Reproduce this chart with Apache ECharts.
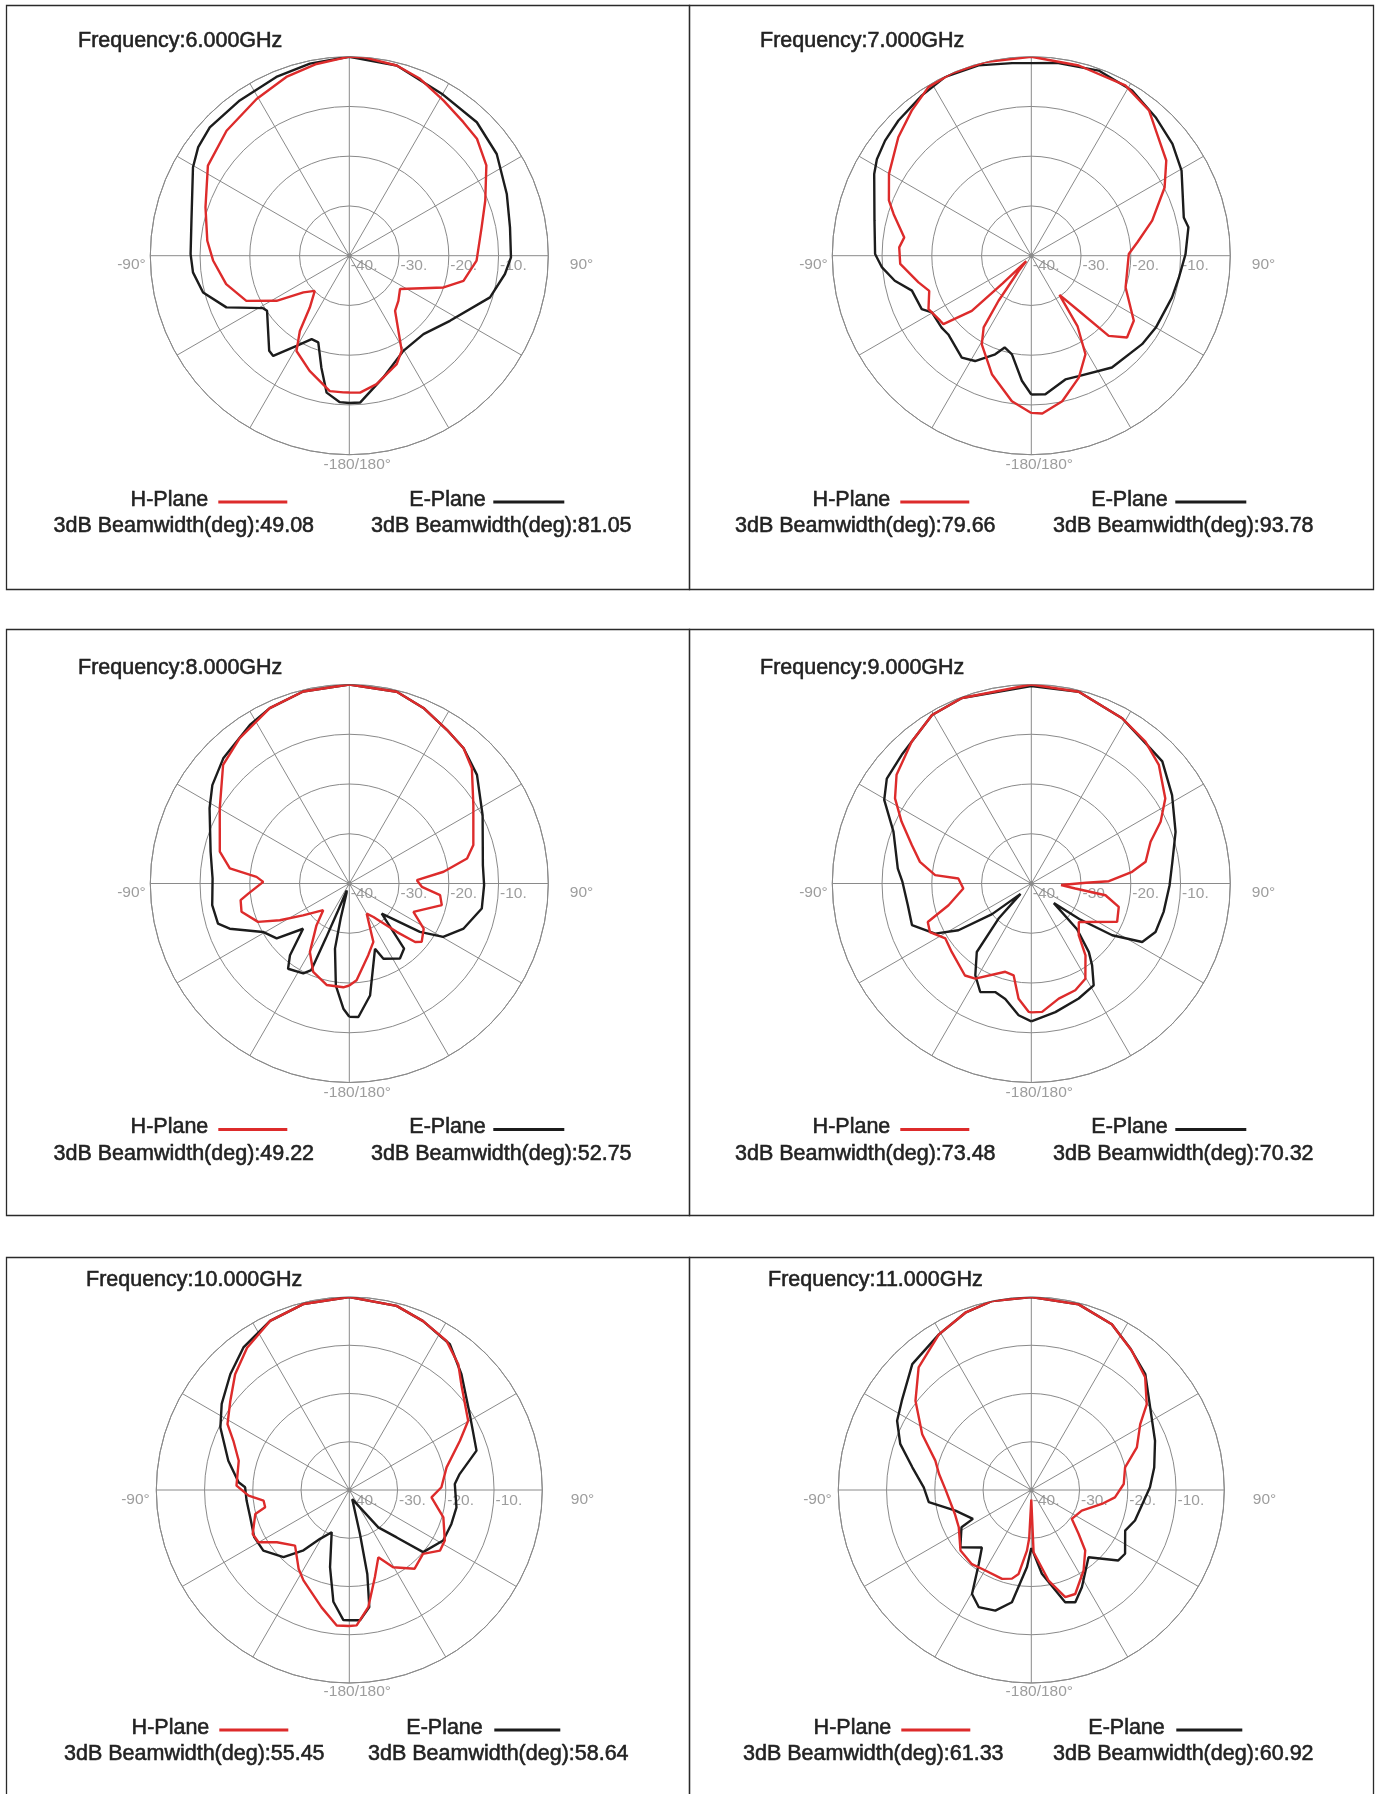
<!DOCTYPE html>
<html>
<head>
<meta charset="utf-8">
<script src="https://cdn.jsdelivr.net/npm/echarts@6/dist/echarts.min.js"></script>
<style>
html,body{margin:0;padding:0;background:#ffffff;}
#chart{width:1378px;height:1794px;}
</style>
</head>
<body>
<div id="chart"></div>
<script>
// ---------- data ----------
const frequencies = ['6.000', '7.000', '8.000', '9.000', '10.000', '11.000'];
const hBeamwidth = ['49.08', '79.66', '49.22', '73.48', '55.45', '61.33'];
const eBeamwidth = ['81.05', '93.78', '52.75', '70.32', '58.64', '60.92'];
const radiusTicks = [-40, -30, -20, -10];
const radiusTickLabels = ['-40.', '-30.', '-20.', '-10.'];
const angleTickAngles = [-90, 90, -180];
const angleTickLabels = ['-90°', '90°', '-180/180°'];

// 6 GHz
const h6Angle = [-180,-177.5,-171.8,-161,-151,-146.7,-142.7,-135.5,-128.6,-121.8,-113.7,-103,-92,-84,-71.4,-57.5,-44.5,-30.6,-19.4,-9.7,0,4,14,21.8,31.2,40.5,47.5,56.6,67.9,77.9,92.2,102.4,108.6,123.3,132.6,140.3,151.1,156.4,168,175.5,180];
const h6Gain = [-12.5,-12.5,-12.5,-15.5,-18.1,-21.9,-26.9,-30.1,-28.2,-22.8,-17.4,-14.6,-12.6,-11.3,-9.5,-6.3,-4.8,-3.4,-1.9,-0.9,0,0,-0.6,-1.7,-3.5,-4.7,-5.2,-7.0,-10.5,-12.8,-14.4,-16.5,-20.0,-27.8,-26.6,-25.6,-18.2,-16.2,-13.6,-12.4,-12.5];
const e6Angle = [-180,-176.3,-170.6,-166,-160.3,-155.7,-149.7,-142.8,-139.9,-123.8,-121.3,-112.8,-104.1,-96.1,-89.4,-77.5,-60.5,-54.3,-47.4,-35.2,-22.2,-11.6,0,14,29.7,43.7,55.4,68.6,80,90.6,96.7,106.5,122.9,136.6,150.4,164.4,175.8,180];
const e6Gain = [-10.4,-10.5,-12.1,-16.8,-21.5,-21.6,-19.0,-14.7,-15.0,-20.1,-19.7,-13.2,-9.7,-8.4,-8.1,-7.5,-3.9,-2.6,-1.9,-1.8,-1.2,-0.6,0,-0.6,-2.5,-2.9,-4.0,-6.0,-7.2,-7.5,-8.5,-10.5,-15.9,-18.3,-18.0,-14.6,-10.4,-10.4];

// 7 GHz
const h7Angle = [-180,-172.4,-161.6,-150.8,-146.4,-144,-140.2,-137.5,-134,-132.8,-127.9,-125.5,-117.5,-109,-103.3,-93.6,-86.4,-81.8,-73.2,-68.8,-60.1,-48.3,-39.5,-31.4,-23.4,-13.4,0,14,28.9,39,45.9,54.8,62.9,73.8,82.8,89,108.6,122.4,130.5,136,139.3,144.3,146.8,151.2,158.7,168,176,180];
const h7Gain = [-8.4,-10.5,-14.9,-19.6,-22.7,-28.8,-36,-38.5,-32,-23.7,-17.6,-17.5,-16.7,-18.3,-16.7,-13.6,-13.4,-14.2,-11.1,-9.3,-7.0,-4.2,-2.2,-0.3,0,0,0,-0.6,-0.9,-2.4,-4.8,-6.8,-9.9,-14.7,-18.5,-20.4,-20.0,-15.6,-14.7,-17.6,-25.4,-30.3,-23,-17.4,-13.7,-10.1,-8.2,-8.4];
const e7Angle = [-180,-175.7,-168.9,-163.8,-159.9,-151.9,-145.7,-133.5,-128.7,-119.7,-116,-106.3,-100.4,-94.5,-89.4,-77.4,-62.5,-58,-51.8,-44.5,-34.3,-25.7,-15.5,-5.7,0,8,20,31.4,41.9,51.6,60.5,75.9,79.7,89.4,98.4,106.5,120,128.6,144.2,158.5,164.6,174.2,180];
const e7Gain = [-12.1,-14.8,-19.8,-20.8,-18.9,-16.0,-15.2,-17.0,-16.9,-17.0,-15.5,-15.0,-12.1,-9.9,-8.6,-7.7,-4.4,-3.4,-2.6,-1.9,-1.0,-0.1,-0.3,-1.1,-1.3,-0.9,-0.4,-1.1,-2.6,-3.8,-5.3,-8.4,-7.9,-9.0,-10.0,-10.5,-11.1,-11.5,-12.3,-14.0,-14.2,-12.0,-12.1];

// 8 GHz
const h8Angle = [-180,-176.7,-167.4,-157.8,-150.1,-141.9,-135.7,-124.5,-117.9,-112.8,-104.7,-98.7,-95.7,-88.9,-85.9,-82.8,-76.2,-59.9,-46.8,-37,-24.4,-13.5,0,13.9,22.9,32.4,40.2,46.8,57.7,72.8,78,82.9,87.2,92.6,97.3,103.2,113.9,121.3,128.9,131.6,135.6,144.2,150,157.6,165.2,175.7,180];
const h8Gain = [-19.5,-19.1,-19.1,-20.8,-24.1,-29.3,-32.5,-28.7,-24.2,-20.1,-17.6,-17.9,-19.6,-22.7,-21.3,-15.8,-13.2,-9.9,-5.2,-3.4,-1.3,-0.3,0,-0.3,-1.7,-3.4,-4.4,-6.2,-10.5,-13.9,-15.8,-20.9,-26.4,-25.4,-21.6,-20.9,-25.9,-22.5,-21.3,-22.3,-26.4,-31.7,-33.0,-27.3,-25.1,-20.5,-19.5];
const e8Angle = [-180,-177.3,-172.5,-167.6,-166.1,-164,-160,-157.5,-156.8,-156.3,-152.9,-144.3,-140.4,-134.4,-127.1,-119.3,-110.7,-107,-99,-87.9,-77.1,-61.7,-54.3,-45.2,-32.1,-24.4,-13.5,0,13.9,22.9,32.4,40.2,49.6,62.9,82.2,90.7,100.7,111.5,119.6,124.4,132.9,139.9,146,155.6,158.5,169.5,176.1,180];
const e8Gain = [-13.2,-14.8,-19.3,-26.6,-32.8,-38,-38.5,-34,-28,-21.0,-19.7,-18.9,-21.3,-27.0,-21.7,-20.1,-14.3,-12.4,-12.1,-12.5,-11.4,-8.1,-6.1,-4.3,-2.4,-1.3,-0.3,0,-0.3,-1.7,-3.4,-4.4,-6.3,-9.9,-12.9,-12.9,-12.9,-15.3,-18.3,-22.8,-31.1,-22.9,-21.8,-23.4,-25.9,-17.1,-13.1,-13.2];

// 9 GHz
const h9Angle = [-180,-178.8,-173.7,-169.1,-163.6,-149.5,-144.2,-130.7,-122.6,-115.6,-110.4,-104.7,-94.2,-86.1,-85,-79,-72.2,-64.5,-58,-51.1,-40.1,-30.5,-20.5,0,13.9,28.8,38.8,47.1,57.6,64.5,70.7,79.2,83.4,88.3,89.2,93,96.5,99,105,114.1,129,137.5,143,150.4,157.6,166.6,175.2,180];
const h9Gain = [-14.1,-14.2,-16.7,-21.2,-21.5,-17.8,-17.2,-18.9,-19.5,-17.4,-17.8,-22.8,-26.3,-25.3,-20.6,-17.2,-14.8,-11.1,-7.7,-5.2,-2.7,-0.7,-0.2,0,-0.3,-2.1,-3.4,-5.0,-8.1,-11.2,-14.6,-16.6,-19.6,-24.4,-29,-34,-31.1,-24.9,-21.8,-21.1,-27.7,-25.9,-21.9,-18.0,-16.8,-16.2,-14.1,-14.1];
const e9Angle = [-180,-174.5,-167.3,-161.6,-154.8,-148.6,-141.5,-137,-134,-128,-122.7,-117.5,-109.2,-100,-89.3,-83.6,-69.4,-60.4,-54,-45.2,-30.5,-20.5,0,13.9,28.8,38.8,47,57.9,70.3,81.2,90.7,102.1,111.3,117.8,122.6,126.5,131,135,140,143.4,148.5,157.6,169.4,180];
const e9Gain = [-12.3,-13.4,-16.2,-17.0,-15.9,-18.4,-22.4,-30.3,-37,-30,-22.6,-18.2,-14.6,-14.8,-14.1,-13.0,-10.4,-6.0,-4.1,-3.3,-0.7,-0.2,-0.3,-0.3,-2.1,-3.6,-4.0,-6.6,-9.2,-11.3,-12.2,-12.8,-13.2,-14.8,-20.7,-28,-34,-27,-22,-19.5,-16.0,-15.0,-13.7,-12.3];

// 10 GHz
const h10Angle = [-180,-174.7,-166.7,-153.1,-147.2,-135.7,-125.8,-119.9,-114.5,-104.3,-101.6,-97.1,-93.2,-87.8,-75.2,-67,-61.6,-53.2,-44.6,-35.7,-25.1,-13.9,0,14.4,23.6,33.1,40.9,46.7,59.8,66,76.9,88.3,95.1,106.2,117.9,123.8,130.9,140.3,150.4,156.7,163.6,170.8,176.9,180];
const h10Gain = [-11.8,-11.8,-15.0,-19.0,-20.6,-23.9,-21.5,-18.3,-18.0,-19.9,-22.2,-22.1,-19.1,-16.6,-16.3,-13.9,-11.3,-9.2,-6.3,-3.7,-1.3,-0.3,0,-0.6,-1.8,-3.1,-5.5,-8.1,-11.5,-14.9,-19.3,-20.9,-22.9,-19.7,-17.6,-17.4,-19.8,-18.8,-21.6,-24.8,-21.2,-15.4,-11.9,-11.8];
const e10Angle = [-180,-177.4,-171.9,-166,-157.4,-149.1,-142.8,-135.6,-125.2,-116.4,-105.4,-95.9,-88.5,-86,-76.4,-64.1,-56,-45.8,-36.6,-25.1,-13.9,0,14.4,23.6,34.6,44.1,57.8,72.8,81.8,86.8,99.2,108.4,118.3,130.1,135,142.2,152.4,162,166.4,167.9,170.3,175.3,180];
const e10Gain = [-13.0,-13.0,-16.6,-23.5,-30.5,-28.2,-24.3,-20.5,-18.2,-18.0,-18.7,-18.6,-18.4,-17.0,-14.2,-10.3,-8.1,-5.6,-3.2,-1.3,-0.3,0,-0.6,-1.8,-3.3,-6.6,-10.5,-12.4,-16.9,-18.1,-17.5,-17.7,-17.9,-20.0,-26.1,-30.2,-36.8,-38,-30.6,-22.2,-15.4,-12.9,-13.0];

// 11 GHz
const h11Angle = [-180,-177.5,-175.9,-171.4,-167.7,-161.8,-150.3,-141.3,-130.5,-117.2,-107.4,-89.6,-80.2,-73,-62.9,-52.4,-42.6,-30.7,-20.4,-11.7,0,14.3,25.9,35.8,45.3,53.4,58.8,68,76.4,86.3,95,101.2,112.2,125.5,132.9,138.3,147,157.1,162.4,169.2,177.9,180];
const h11Gain = [-38,-30,-27.4,-22.4,-21.2,-20.6,-20.8,-20.3,-20.7,-23.1,-23.4,-22.2,-20.6,-19.2,-14.6,-9.7,-5.5,-2.5,-0.8,0,0,-0.3,-1.8,-4.4,-6.8,-10.2,-13.6,-16.4,-20.0,-20.8,-22.6,-25.1,-28.7,-29.7,-26.6,-23.2,-20.1,-16.6,-16.7,-20.9,-27.1,-38];
const e11Angle = [-180,-176.8,-170.2,-163.4,-155.8,-150.3,-144.6,-139.3,-128.9,-118.1,-116.3,-105.2,-96.8,-88.6,-79.2,-70.6,-62.7,-55.4,-43.4,-30.7,-20.4,-11.7,0,14.3,25.9,35,44.5,55.2,68.3,79.6,88.7,106.4,113.4,124.2,129,139.6,152.5,158.6,163.2,172.8,179.4,180];
const e11Gain = [-28,-24.0,-16.4,-13.9,-13.4,-15.2,-21.2,-24.3,-21.1,-23.6,-26.5,-23.7,-18.6,-17.7,-14.9,-11.2,-8.7,-7.4,-4.1,-2.5,-0.8,0,0,-0.3,-1.8,-4.2,-6.3,-10.0,-12.4,-14.1,-15.4,-17.6,-18.8,-16.5,-16.8,-21.7,-17.3,-15.0,-15.7,-22.5,-27.8,-28];

const hAngles = [h6Angle, h7Angle, h8Angle, h9Angle, h10Angle, h11Angle];
const hGains  = [h6Gain, h7Gain, h8Gain, h9Gain, h10Gain, h11Gain];
const eAngles = [e6Angle, e7Angle, e8Angle, e9Angle, e10Angle, e11Angle];
const eGains  = [e6Gain, e7Gain, e8Gain, e9Gain, e10Gain, e11Gain];

// ---------- layout ----------
const FONT = '"Liberation Sans", Arial, Helvetica, sans-serif';
const RED = '#dd2b2b';
const BLACK = '#1c1c1c';
const GRID = '#8a8a8a';
const LABEL = '#858585';
const TEXT = '#222222';

const colX = [349.3, 1031.3];
const panelX = [[6, 689], [689, 1373]];
const rows = [
  {top: 5,    bottom: 589,  cy: 255.7,  r: 199, titleY: 41,   legY: 500,    bwY: 526.5, titleX: [78, 760],
   hEnd: -141, red: [-131, -62], eStart: 60, blk: [144, 215], bw1: [-165.5, -166], bw2: [152, 152], rightGap: 22, leftGap: 4, botGap: 3},
  {top: 629,  bottom: 1215, cy: 883.5,  r: 199, titleY: 668.4, legY: 1127.5, bwY: 1154, titleX: [78, 760],
   hEnd: -141, red: [-131, -62], eStart: 60, blk: [144, 215], bw1: [-165.5, -166], bw2: [152, 152], rightGap: 22, leftGap: 4, botGap: 3},
  {top: 1257, bottom: 1900, cy: 1490,   r: 193, titleY: 1280, legY: 1728,   bwY: 1754.5, titleX: [86, 768],
   hEnd: -140, red: [-130, -61], eStart: 57, blk: [145, 211], bw1: [-155, -158], bw2: [149, 152], rightGap: 29, leftGap: 6, botGap: 1}
];

function textStyle(text, align) {
  return {text: text, fill: TEXT, font: '21.5px ' + FONT, align: align, verticalAlign: 'middle',
          stroke: TEXT, lineWidth: 0.55};
}

const polar = [], angleAxis = [], radiusAxis = [], series = [], graphic = [];

for (let i = 0; i < 6; i++) {
  const row = rows[Math.floor(i / 2)];
  const col = i % 2;
  const cx = colX[col];
  const cy = row.cy;

  polar.push({center: [cx, cy], radius: row.r});
  angleAxis.push({
    polarIndex: i, type: 'value', min: -180, max: 180, interval: 30,
    startAngle: -90, clockwise: true,
    axisLine: {show: true, lineStyle: {color: GRID, width: 1}},
    axisTick: {show: false}, axisLabel: {show: false},
    splitLine: {show: true, lineStyle: {color: GRID, width: 1}}
  });
  radiusAxis.push({
    polarIndex: i, type: 'value', min: -40, max: 0, interval: 10,
    axisLine: {show: false}, axisTick: {show: false}, axisLabel: {show: false},
    splitLine: {show: true, lineStyle: {color: GRID, width: 1}}
  });

  // E-plane (black) first, H-plane (red) on top
  series.push({
    type: 'line', coordinateSystem: 'polar', polarIndex: i, name: 'E-Plane',
    data: eAngles[i].map((a, k) => [eGains[i][k], a]),
    symbol: 'none', smooth: false, animation: false, silent: true, z: 4,
    lineStyle: {color: BLACK, width: 2.4}
  });
  series.push({
    type: 'line', coordinateSystem: 'polar', polarIndex: i, name: 'H-Plane',
    data: hAngles[i].map((a, k) => [hGains[i][k], a]),
    symbol: 'none', smooth: false, animation: false, silent: true, z: 5,
    lineStyle: {color: RED, width: 2.4}
  });

  // radius tick labels along the 90° spoke
  series.push({
    type: 'scatter', coordinateSystem: 'polar', polarIndex: i, silent: true, animation: false,
    symbolSize: 1, itemStyle: {color: 'rgba(0,0,0,0)'}, z: 3,
    data: radiusTicks.map((t, k) => ({
      value: [t, 90],
      label: {show: true, formatter: radiusTickLabels[k], position: [2, 3], align: 'left', verticalAlign: 'top',
              color: LABEL, fontSize: 15.5, fontFamily: FONT}
    }))
  });
  // angle labels
  const angPos = [[-row.leftGap, 2, 'right'], [row.rightGap, 2, 'left'], [8.5, row.botGap, 'center']];
  series.push({
    type: 'scatter', coordinateSystem: 'polar', polarIndex: i, silent: true, animation: false,
    symbolSize: 1, itemStyle: {color: 'rgba(0,0,0,0)'}, z: 3,
    data: angleTickAngles.map((a, k) => ({
      value: [0, a],
      label: {show: true, formatter: angleTickLabels[k], position: [angPos[k][0], angPos[k][1]],
              align: angPos[k][2], verticalAlign: 'top', color: LABEL, fontSize: 15.5, fontFamily: FONT}
    }))
  });
  // centre dot
  series.push({
    type: 'scatter', coordinateSystem: 'polar', polarIndex: i, silent: true, animation: false,
    symbolSize: 5, itemStyle: {color: '#8a8a8a'}, z: 3, data: [[-40, 0]]
  });

  // panel border
  graphic.push({
    type: 'rect', silent: true, z: 1,
    shape: {x: panelX[col][0] + 0.5, y: row.top + 0.5, width: panelX[col][1] - panelX[col][0], height: row.bottom - row.top},
    style: {fill: 'none', stroke: '#2a2a2a', lineWidth: 1.3}
  });
  // title
  graphic.push({type: 'text', silent: true, z: 10, x: row.titleX[col], y: row.titleY,
    style: textStyle('Frequency:' + frequencies[i] + 'GHz', 'left')});
  // legend
  graphic.push({type: 'text', silent: true, z: 10, x: cx + row.hEnd, y: row.legY,
    style: textStyle('H-Plane', 'right')});
  graphic.push({
    type: 'line', silent: true, z: 10,
    shape: {x1: cx + row.red[0], y1: row.legY + 2, x2: cx + row.red[1], y2: row.legY + 2},
    style: {stroke: RED, lineWidth: 3}
  });
  graphic.push({type: 'text', silent: true, z: 10, x: cx + row.eStart, y: row.legY,
    style: textStyle('E-Plane', 'left')});
  graphic.push({
    type: 'line', silent: true, z: 10,
    shape: {x1: cx + row.blk[0], y1: row.legY + 2, x2: cx + row.blk[1], y2: row.legY + 2},
    style: {stroke: BLACK, lineWidth: 3}
  });
  graphic.push({type: 'text', silent: true, z: 10, x: cx + row.bw1[col], y: row.bwY,
    style: textStyle('3dB Beamwidth(deg):' + hBeamwidth[i], 'center')});
  graphic.push({type: 'text', silent: true, z: 10, x: cx + row.bw2[col], y: row.bwY,
    style: textStyle('3dB Beamwidth(deg):' + eBeamwidth[i], 'center')});
}

const chart = echarts.init(document.getElementById('chart'), null, {renderer: 'canvas', width: 1378, height: 1794});
chart.setOption({
  backgroundColor: '#ffffff',
  animation: false,
  polar: polar,
  angleAxis: angleAxis,
  radiusAxis: radiusAxis,
  series: series,
  graphic: graphic
});
</script>
</body>
</html>
